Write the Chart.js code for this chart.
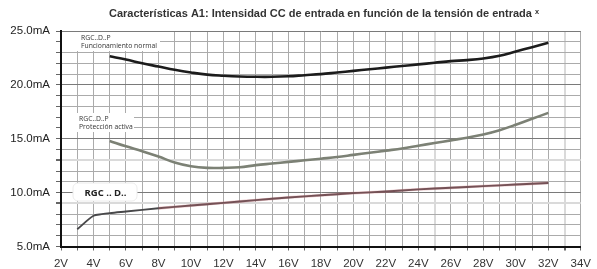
<!DOCTYPE html>
<html><head><meta charset="utf-8">
<script src="https://cdn.jsdelivr.net/npm/chart.js@4/dist/chart.umd.min.js"></script>
<style>html,body{margin:0;padding:0;background:#fff}#wrap{width:597px;height:269px}</style>
</head><body><div id="wrap"><canvas id="c" width="597" height="269"></canvas></div>
<script>
const titleText = 'Características A1: Intensidad CC de entrada en función de la tensión de entrada ˣ';
const xTicksV = [2,4,6,8,10,12,14,16,18,20,22,24,26,28,30,32,34];
const yTicksMA = [5,10,15,20,25];

const normalV  = [5,6,7,8,9,10,11,12,13,14,15,16,17,18,19,20,21,22,23,24,25,26,27,28,29,30,31,32];
const normalMA = [22.65,22.35,22.0,21.7,21.4,21.15,20.95,20.85,20.78,20.75,20.75,20.8,20.9,21.0,21.15,21.3,21.45,21.6,21.75,21.9,22.05,22.2,22.3,22.45,22.7,23.1,23.5,23.9];

const protV  = [5,6,7,8,9,10,11,12,13,14,15,16,17,18,19,20,21,22,23,24,25,26,27,28,29,30,31,32];
const protMA = [14.8,14.3,13.85,13.35,12.8,12.45,12.3,12.3,12.35,12.55,12.7,12.85,13.0,13.15,13.3,13.5,13.7,13.9,14.1,14.35,14.6,14.85,15.1,15.4,15.8,16.3,16.85,17.4];

const rgcV  = [3,4,4.5,5,6,8,10,12,14,16,18,20,22,24,26,28,30,32];
const rgcMA = [6.6,7.85,8.0,8.1,8.25,8.55,8.8,9.05,9.3,9.55,9.75,9.95,10.1,10.3,10.45,10.6,10.75,10.9];

const labels = [
  {lines:['RGC..D..P','Funcionamiento normal']},
  {lines:['RGC..D..P','Protección activa']},
  {lines:['RGC .. D..']}
];

const pts = (xs, ys) => xs.map((x,i)=>({x, y: ys[i]}));
const rgcRed = pts(rgcV, rgcMA).filter(p => p.x >= 7);

const annot = {
  id:'annot',
  afterDatasetsDraw(chart){
    const ctx = chart.ctx;
    ctx.save();
    ctx.fillStyle = '#fff';
    ctx.fillRect(62, 32, 98, 19);
    ctx.fillRect(62, 113, 72, 19);
    ctx.beginPath();
    if (ctx.roundRect) ctx.roundRect(73, 183, 64, 18, 5); else ctx.rect(73,183,64,18);
    ctx.fill();
    ctx.strokeStyle = '#ececec'; ctx.lineWidth = 1; ctx.stroke();

    ctx.fillStyle = '#333';
    ctx.textBaseline = 'middle';
    ctx.textAlign = 'left';
    ctx.font = '6.8px "Open Sans", sans-serif';
    ctx.fillText(labels[0].lines[0], 81, 38);
    ctx.fillText(labels[0].lines[1], 81, 46);
    ctx.fillText(labels[1].lines[0], 79, 119.5);
    ctx.fillText(labels[1].lines[1], 79, 127);
    ctx.font = 'bold 9.5px "Open Sans", sans-serif';
    ctx.textAlign = 'center';
    ctx.fillStyle = '#222';
    ctx.fillText(labels[2].lines[0], 105.5, 193.5);

    ctx.font = 'bold 11px "Liberation Sans", Arial, sans-serif';
    ctx.fillStyle = '#333';
    ctx.textAlign = 'center';
    ctx.fillText(titleText, 324, 14);
    ctx.restore();
  }
};

const lightX = v => v===25 || v===33;
const lightY = v => v===9 || v===13;

new Chart(document.getElementById('c'), {
  type: 'line',
  data: {
    datasets: [
      {data: pts(normalV, normalMA), borderColor:'#1c1c1c', borderWidth:2.6, pointRadius:0, tension:0.4, fill:false},
      {data: pts(protV, protMA), borderColor:'#7c8175', borderWidth:2.6, pointRadius:0, tension:0.4, fill:false},
      {data: rgcRed, borderColor:'rgba(200,100,110,0.35)', borderWidth:2.8, pointRadius:0, tension:0.3, fill:false},
      {data: pts(rgcV, rgcMA), borderColor:'#48484a', borderWidth:1.9, pointRadius:0, tension:0.3, fill:false}
    ]
  },
  options: {
    responsive:false, animation:false, devicePixelRatio:1,
    layout:{padding:{left:0, right:13, top:31, bottom:0}},
    plugins:{legend:{display:false}, tooltip:{enabled:false}, title:{display:false}},
    scales:{
      x:{
        type:'linear', min:2, max:34,
        afterFit(s){ s.height = 22.5; },
        afterBuildTicks(s){ const t=[]; for(let v=2; v<=34; v++) t.push({value:v}); s.ticks=t; },
        ticks:{autoSkip:false, maxRotation:0, padding:6, color:'#333',
          font:{family:'"Liberation Sans", Arial, sans-serif', size:11.5},
          callback:(v)=> xTicksV.includes(v) ? v+'V' : ''},
        grid:{color:(c)=> (c.tick && lightX(c.tick.value)) ? '#dadada' : '#ababab',
              lineWidth:(c)=> (c.tick && lightX(c.tick.value)) ? 2 : 1,
              tickLength:4, tickColor:'#666'},
        border:{color:'#111', width:2}
      },
      y:{
        type:'linear', min:5, max:25,
        afterFit(s){ s.width = 61; },
        afterBuildTicks(s){ const t=[]; for(let v=5; v<=25; v++) t.push({value:v}); s.ticks=t; },
        ticks:{autoSkip:false, padding:6, color:'#222',
          font:{family:'"Liberation Sans", Arial, sans-serif', size:11.5},
          callback:(v)=> yTicksMA.includes(v) ? v.toFixed(1)+'mA' : ''},
        grid:{color:(c)=> c.tick && c.tick.value%5===0 ? '#7a7a7a' : ((c.tick && lightY(c.tick.value)) ? '#dadada' : '#ababab'),
              lineWidth:(c)=> (c.tick && lightY(c.tick.value)) ? 2 : 1,
              tickLength:5, tickColor:'#666'},
        border:{color:'#111', width:2}
      }
    }
  },
  plugins:[annot]
});
</script></body></html>
